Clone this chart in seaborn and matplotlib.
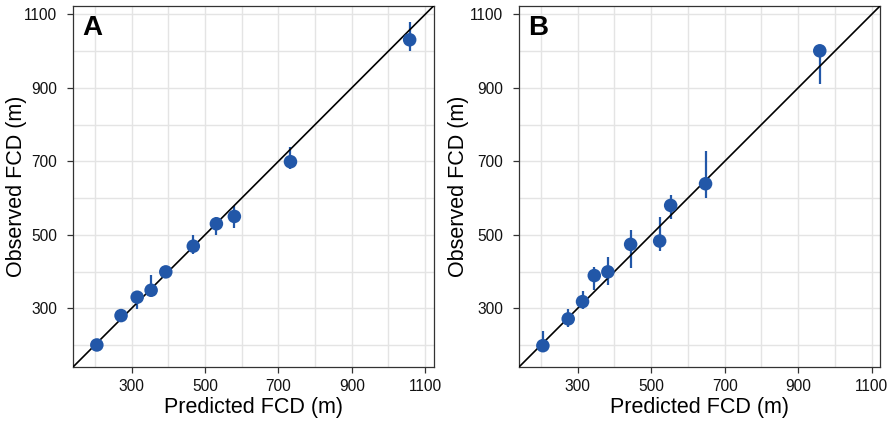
import numpy as np
import pandas as pd
import matplotlib
matplotlib.use("Agg")
import matplotlib.pyplot as plt
import seaborn as sns

# Panel A data
a_pred = [205, 271, 315, 353, 393, 468, 531, 580, 733, 1058]
a_obs = [200, 280, 330, 349, 399, 469, 530, 550, 699, 1031]
a_lo = [190, 270, 298, 330, 385, 449, 499, 519, 678, 1001]
a_hi = [210, 292, 348, 390, 414, 499, 549, 578, 739, 1080]

# Panel B data
b_pred = [205, 274, 313, 345, 382, 444, 523, 553, 648, 959]
b_obs = [198, 271, 318, 389, 399, 474, 483, 580, 639, 1001]
b_lo = [185, 248, 298, 351, 364, 410, 457, 542, 601, 910]
b_hi = [237, 298, 348, 413, 439, 513, 548, 609, 728, 1015]

panel_labels = ["A", "B"]
major_ticks = [300, 500, 700, 900, 1100]
minor_ticks = [200, 400, 600, 800, 1000]
xlabel = "Predicted FCD (m)"
ylabel = "Observed FCD (m)"

sns.set_theme(style="white")
plt.rcParams["font.family"] = ["Liberation Sans", "DejaVu Sans"]

color = "#2257a8"
fig = plt.figure(figsize=(8.88, 4.22), dpi=100)
axA = fig.add_axes([73 / 888, 55 / 422, 360.5 / 888, 361 / 422])
axB = fig.add_axes([519 / 888, 55 / 422, 361 / 888, 361 / 422])

panels = [
    (axA, a_pred, a_obs, a_lo, a_hi, -2.0),
    (axB, b_pred, b_obs, b_lo, b_hi, 1.0),
]

for (ax, px, ob, lo, hi, ylp), lab in zip(panels, panel_labels):
    df = pd.DataFrame({"pred": px, "obs": ob, "lo": lo, "hi": hi})
    ax.set_xlim(140, 1123)
    ax.set_ylim(140, 1123)
    ax.set_xticks(major_ticks)
    ax.set_yticks(major_ticks)
    ax.set_xticks(minor_ticks, minor=True)
    ax.set_yticks(minor_ticks, minor=True)
    ax.grid(True, which="both", color="#e4e4e4", linewidth=1.0)
    ax.set_axisbelow(True)
    ax.vlines(df["pred"], df["lo"], df["hi"], color=color, linewidth=1.6, zorder=3)
    ax.axline((0, 0), slope=1, color="black", linewidth=1.2, zorder=4)
    sns.scatterplot(data=df, x="pred", y="obs", ax=ax, color=color, s=95,
                    edgecolor="none", zorder=5)
    for sp in ax.spines.values():
        sp.set_color("#333333")
        sp.set_linewidth(0.9)
    ax.tick_params(axis="both", which="major", direction="out", length=4,
                   width=0.9, color="#333333", labelsize=11.2, labelcolor="#111111",
                   bottom=True, left=True)
    ax.tick_params(axis="x", which="major", pad=4.5)
    ax.tick_params(axis="y", which="major", pad=7.5)
    ax.tick_params(axis="both", which="minor", length=0, bottom=False, left=False)
    ax.set_xlabel(xlabel, fontsize=15.5, color="black", labelpad=2)
    ax.set_ylabel(ylabel, fontsize=15.5, color="black", labelpad=ylp)
    ax.text(0.025, 0.975, lab, transform=ax.transAxes, fontsize=20,
            fontweight="bold", va="top", ha="left", color="black")

fig.savefig("out.png", dpi=100)
